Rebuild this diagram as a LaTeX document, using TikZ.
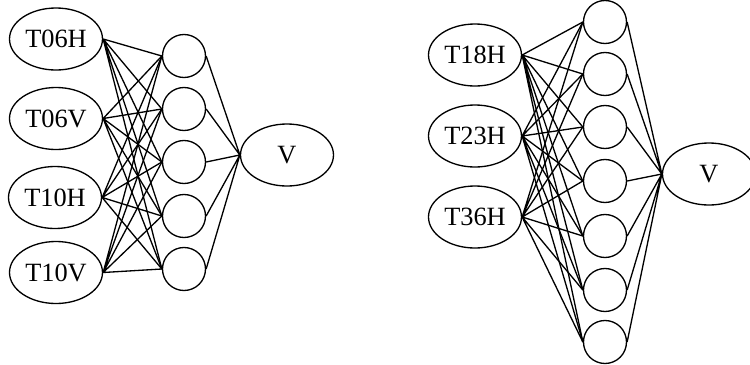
\documentclass[tikz,border=0pt]{standalone}
\usepackage{fontspec}
\setmainfont{Liberation Serif}
\usetikzlibrary{shapes.geometric}

\tikzset{
  inp/.style={draw, ellipse, inner sep=0pt, minimum width=1.86cm, minimum height=1.24cm, font=\fontsize{15}{17}\selectfont},
  hid/.style={draw, circle, inner sep=0pt, minimum size=0.86cm},
}

\begin{document}
\begin{tikzpicture}[line width=0.75pt]
\useasboundingbox (0,0) rectangle (15,-7.3);

%% first net: inputs
\node[inp] (t06h) at (1.12,-0.78) {T06H};
\node[inp] (t06v) at (1.12,-2.37) {T06V};
\node[inp] (t10h) at (1.10,-3.95) {T10H};
\node[inp] (t10v) at (1.12,-5.45) {T10V};

%% first net: hidden layer
\node[hid] (a1) at (3.68,-1.12) {};
\node[hid] (a2) at (3.68,-2.18) {};
\node[hid] (a3) at (3.68,-3.24) {};
\node[hid] (a4) at (3.68,-4.32) {};
\node[hid] (a5) at (3.68,-5.38) {};

%% first net: output
\node[inp] (va) at (5.74,-3.10) {V};

%% first net: edges
\draw (t06h.east) -- (a1.west) (t06h.east) -- (a2.west) (t06h.east) -- (a3.west) (t06h.east) -- (a4.west) (t06h.east) -- (a5.west);
\draw (t06v.east) -- (a1.west) (t06v.east) -- (a2.west) (t06v.east) -- (a3.west) (t06v.east) -- (a4.west) (t06v.east) -- (a5.west);
\draw (t10h.east) -- (a1.west) (t10h.east) -- (a2.west) (t10h.east) -- (a3.west) (t10h.east) -- (a4.west) (t10h.east) -- (a5.west);
\draw (t10v.east) -- (a1.west) (t10v.east) -- (a2.west) (t10v.east) -- (a3.west) (t10v.east) -- (a4.west) (t10v.east) -- (a5.west);
\draw (a1.east) -- (va.west) (a2.east) -- (va.west) (a3.east) -- (va.west) (a4.east) -- (va.west) (a5.east) -- (va.west);

%% second net: inputs
\node[inp] (t18h) at (9.50,-1.10) {T18H};
\node[inp] (t23h) at (9.50,-2.72) {T23H};
\node[inp] (t36h) at (9.50,-4.34) {T36H};

%% second net: hidden layer
\node[hid] (b1) at (12.10,-0.44) {};
\node[hid] (b2) at (12.10,-1.48) {};
\node[hid] (b3) at (12.10,-2.54) {};
\node[hid] (b4) at (12.10,-3.62) {};
\node[hid] (b5) at (12.10,-4.72) {};
\node[hid] (b6) at (12.10,-5.80) {};
\node[hid] (b7) at (12.10,-6.84) {};

%% second net: output
\node[inp] (vb) at (14.18,-3.48) {V};

%% second net: edges
\draw (t18h.east) -- (b1.west) (t18h.east) -- (b2.west) (t18h.east) -- (b3.west) (t18h.east) -- (b4.west) (t18h.east) -- (b5.west) (t18h.east) -- (b6.west) (t18h.east) -- (b7.west);
\draw (t23h.east) -- (b1.west) (t23h.east) -- (b2.west) (t23h.east) -- (b3.west) (t23h.east) -- (b4.west) (t23h.east) -- (b5.west) (t23h.east) -- (b6.west) (t23h.east) -- (b7.west);
\draw (t36h.east) -- (b1.west) (t36h.east) -- (b2.west) (t36h.east) -- (b3.west) (t36h.east) -- (b4.west) (t36h.east) -- (b5.west) (t36h.east) -- (b6.west) (t36h.east) -- (b7.west);
\draw (b1.east) -- (vb.west) (b2.east) -- (vb.west) (b3.east) -- (vb.west) (b4.east) -- (vb.west) (b5.east) -- (vb.west) (b6.east) -- (vb.west) (b7.east) -- (vb.west);
\end{tikzpicture}
\end{document}
